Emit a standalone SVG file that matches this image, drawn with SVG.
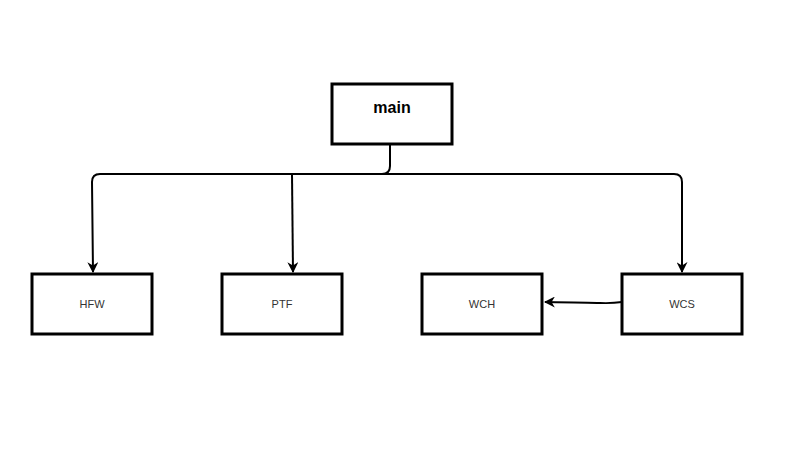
<svg xmlns="http://www.w3.org/2000/svg" width="801" height="460" viewBox="0 0 801 460">
<style>
.box{fill:#fff;stroke:#000;stroke-width:3}
.lbl{font-family:"Liberation Sans",Arial,sans-serif;font-size:11px;fill:#333;text-anchor:middle;dominant-baseline:central}
.main{font-family:"Liberation Sans",Arial,sans-serif;font-size:16px;font-weight:bold;fill:#000;text-anchor:middle;dominant-baseline:central}
.edge{fill:none;stroke:#000;stroke-width:2}
</style>
<defs>
<marker id="arr" viewBox="0 0 10 10" refX="9" refY="5" markerWidth="5.5" markerHeight="5.5" markerUnits="strokeWidth" orient="auto">
<path d="M0,0 L10,5 L0,10 L3,5 Z" fill="#000"/>
</marker>
</defs>
<rect width="801" height="460" fill="#fff"/>
<g id="connectors">
<path class="edge" d="M390,145 L390,166 Q390,174 382,174 L100,174 Q92,174 92,182 L93,272" marker-end="url(#arr)"/>
<path class="edge" d="M292,174 L293,272" marker-end="url(#arr)"/>
<path class="edge" d="M382,174 L674,174 Q682,174 682,182 L682,272" marker-end="url(#arr)"/>
<path class="edge" d="M622,302 Q612,303.5 600,303 Q590,302.5 545,302" marker-end="url(#arr)"/>
</g>
<g id="main"><rect class="box" x="332" y="84" width="120" height="60"/><text class="main" x="392" y="107">main</text></g>
<g id="HFW"><rect class="box" x="32" y="274" width="120" height="60"/><text class="lbl" x="92" y="304">HFW</text></g>
<g id="PTF"><rect class="box" x="222" y="274" width="120" height="60"/><text class="lbl" x="282" y="304">PTF</text></g>
<g id="WCH"><rect class="box" x="422" y="274" width="120" height="60"/><text class="lbl" x="482" y="304">WCH</text></g>
<g id="WCS"><rect class="box" x="622" y="274" width="120" height="60"/><text class="lbl" x="682" y="304">WCS</text></g>
</svg>
